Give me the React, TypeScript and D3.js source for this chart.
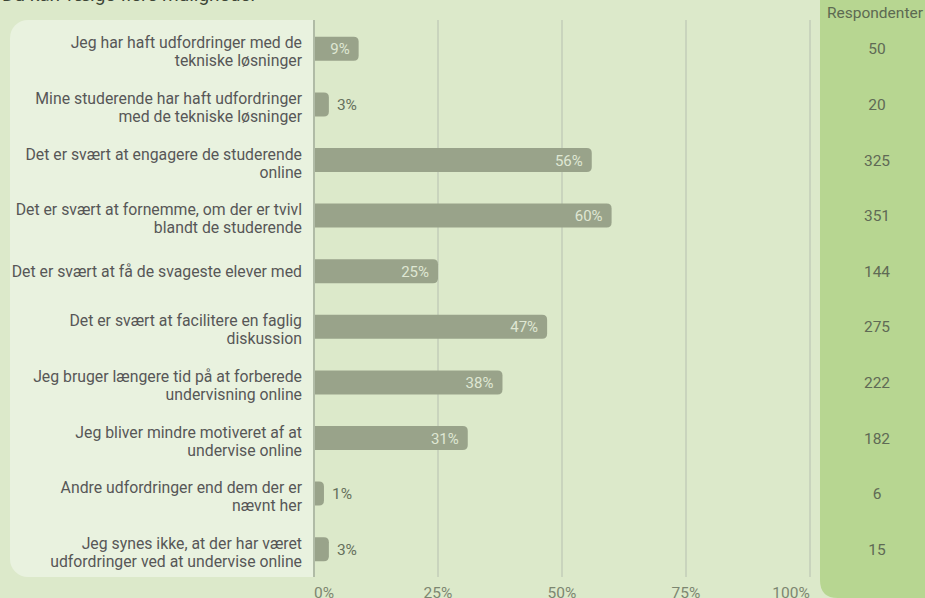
import React from "react";
import * as d3 from "d3";

const categories: string[][] = [
  ["Jeg har haft udfordringer med de", "tekniske løsninger"],
  ["Mine studerende har haft udfordringer", "med de tekniske løsninger"],
  ["Det er svært at engagere de studerende", "online"],
  ["Det er svært at fornemme, om der er tvivl", "blandt de studerende"],
  ["Det er svært at få de svageste elever med"],
  ["Det er svært at facilitere en faglig", "diskussion"],
  ["Jeg bruger længere tid på at forberede", "undervisning online"],
  ["Jeg bliver mindre motiveret af at", "undervise online"],
  ["Andre udfordringer end dem der er", "nævnt her"],
  ["Jeg synes ikke, at der har været", "udfordringer ved at undervise online"],
];
const percentValues: number[] = [9, 3, 56, 60, 25, 47, 38, 31, 1, 3];
const respondents: number[] = [50, 20, 325, 351, 144, 275, 222, 182, 6, 15];
const tickValues: number[] = [0, 25, 50, 75, 100];
const titleText = "Du kan vælge flere muligheder";
const respHeader = "Respondenter";

const W = 925;
const H = 598;
const FONT = "Roboto, 'Noto Sans', sans-serif";

function barPath(x0: number, x1: number, y: number, h: number, r: number) {
  const w = x1 - x0;
  const rr = Math.min(r, w, h / 2);
  return `M${x0},${y}H${x1 - rr}Q${x1},${y} ${x1},${y + rr}V${y + h - rr}Q${x1},${y + h} ${x1 - rr},${y + h}H${x0}Z`;
}

export default function App() {
  const x = d3.scaleLinear().domain([0, 100]).range([314, 810]);
  const ids = categories.map((_, i) => String(i));
  const y = d3.scaleBand<string>().domain(ids).range([21, 577]).padding(0);
  const barH = 24;

  return (
    <svg
      width={W}
      height={H}
      style={{ position: "absolute", left: 0, top: 0, display: "block" }}
      fontFamily={FONT}
    >
      <rect x={0} y={0} width={W} height={H} fill="#dce9ca" />
      <text x={2} y={1} fontSize={19} fill="#3d4636">{titleText}</text>
      {/* label panel */}
      <rect x={10} y={20} width={330} height={557} rx={18} ry={18} fill="#e9f2df" />
      <rect x={314} y={20} width={30} height={557} fill="#dce9ca" />
      {/* respondenter panel */}
      <path d={`M820,0H${W}V598H838Q820,598 820,580Z`} fill="#b7d691" />
      <text x={827} y={18} fontSize={15.5} fill="#5d6a52">{respHeader}</text>
      {/* grid */}
      {tickValues.map((t) => (
        <line
          key={t}
          x1={x(t)}
          x2={x(t)}
          y1={20}
          y2={577}
          stroke={t === 0 ? "#b0bba6" : "#c3cdb8"}
          strokeWidth={t === 0 ? 2 : 1.5}
        />
      ))}
      {tickValues.map((t, i) => (
        <text
          key={"t" + t}
          x={i === 0 ? x(t) : x(t) + (i === tickValues.length - 1 ? -19 : 0)}
          y={598}
          fontSize={15.5}
          fill="#7c8670"
          textAnchor={i === 0 ? "start" : "middle"}
        >
          {t}%
        </text>
      ))}
      {categories.map((lines, i) => {
        const cy = (y(String(i)) as number) + y.bandwidth() / 2;
        const v = percentValues[i];
        const xEnd = x(v) + (v < 2 ? 5 : 0);
        const inside = v >= 5;
        const shift = lines.length > 1 ? 3 : 0;
        return (
          <g key={i}>
            {lines.map((ln, j) => (
              <text
                key={j}
                x={302}
                y={cy + 5.5 + shift + (j - (lines.length - 1) / 2) * 18}
                fontSize={15.8}
                fill="#575757"
                textAnchor="end"
              >
                {ln}
              </text>
            ))}
            <path d={barPath(x(0) + 1, xEnd, cy - barH / 2, barH, 5)} fill="#99a38a" />
            {inside ? (
              <text x={xEnd - 9} y={cy + 5.5} fontSize={15} fill="#dfe7d3" textAnchor="end">
                {v}%
              </text>
            ) : (
              <text x={xEnd + 8} y={cy + 5.5} fontSize={15.5} fill="#66705c">
                {v}%
              </text>
            )}
            <text x={877} y={cy + 5.5} fontSize={15.5} fill="#5f6a55" textAnchor="middle">
              {respondents[i]}
            </text>
          </g>
        );
      })}
    </svg>
  );
}
